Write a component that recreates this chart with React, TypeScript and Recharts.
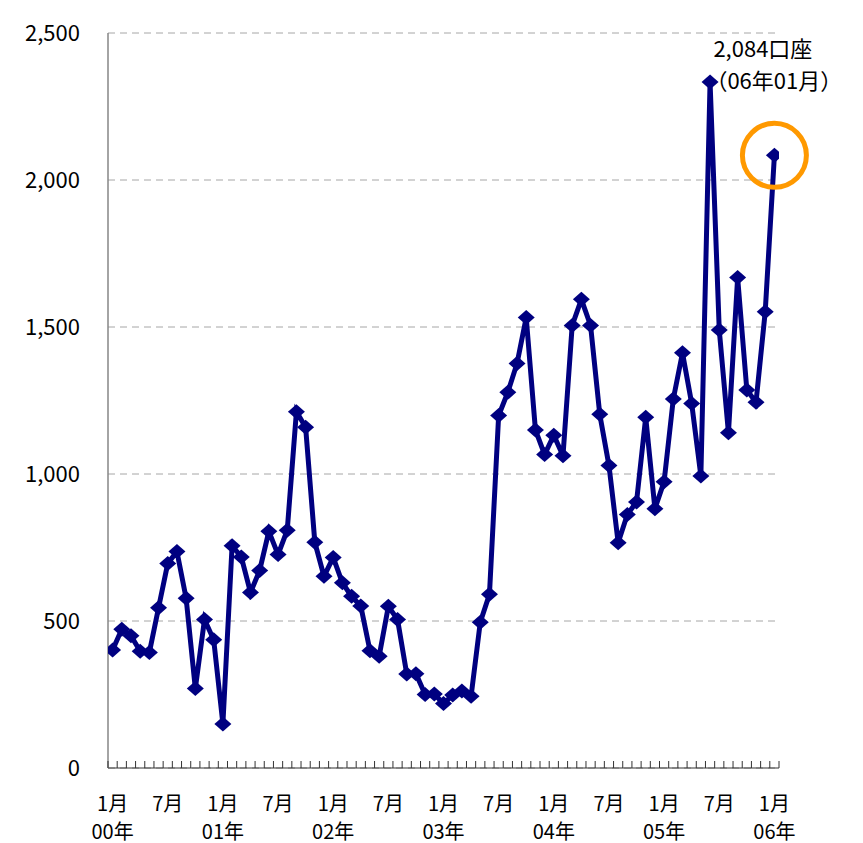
import React from 'react';
import { LineChart, Line, XAxis, YAxis, CartesianGrid, ReferenceDot } from 'recharts';

// monthly new accounts, Jan 2000 .. Jan 2006
const accounts = [
  401, 472, 450, 397, 393, 545, 696, 736, 577, 270, 505, 436,
  150, 756, 718, 597, 672, 805, 726, 809, 1212, 1159, 768, 652,
  716, 630, 584, 551, 399, 380, 550, 505, 320, 321, 250, 252,
  219, 248, 262, 244, 496, 591, 1199, 1278, 1376, 1532, 1150, 1066,
  1132, 1062, 1505, 1594, 1505, 1203, 1029, 766, 862, 905, 1193, 882,
  974, 1255, 1412, 1240, 993, 2333, 1490, 1140, 1668, 1286, 1244, 1552,
  2084,
];

// a label every 6 months
const tickMonth = ['1月', '7月', '1月', '7月', '1月', '7月', '1月', '7月', '1月', '7月', '1月', '7月', '1月'];
const tickYear = ['00年', '', '01年', '', '02年', '', '03年', '', '04年', '', '05年', '', '06年'];
const yTicks = [0, 500, 1000, 1500, 2000, 2500];

const highlightLine1 = '2,084口座';
const highlightLine2 = '（06年01月）';

const data = accounts.map((v, i) => ({ idx: i, value: v }));
const lastIdx = accounts.length - 1;

const W = 863;
const H = 843;
const PLOT_LEFT = 108;
const PLOT_RIGHT = 84;
const BAND = (W - PLOT_LEFT - PLOT_RIGHT) / accounts.length;
const FONT = '"Noto Sans CJK JP", "Noto Sans", sans-serif';

// tick marks sit on month boundaries (Excel style)
const boundaries = Array.from({ length: accounts.length + 1 }, (_, j) => j - 0.5);

function MonthTick(props: any) {
  const { x, y, payload } = props;
  const i = payload.value + 0.5;
  const k = i / 6;
  const showLabel = Number.isInteger(k) && k < tickMonth.length;
  const cx = x + BAND / 2;
  return (
    <g>
      <line x1={x} x2={x} y1={y} y2={y - 7} stroke="#333" strokeWidth={1} />
      {showLabel && (
        <text x={cx} y={y + 34} textAnchor="middle" dominantBaseline="central"
          fontSize={20} fontFamily={FONT} fill="#000">{tickMonth[k]}</text>
      )}
      {showLabel && tickYear[k] && (
        <text x={cx} y={y + 62} textAnchor="middle" dominantBaseline="central"
          fontSize={20} fontFamily={FONT} fill="#000">{tickYear[k]}</text>
      )}
    </g>
  );
}

function Diamond(props: any) {
  const { cx, cy, index } = props;
  if (cx == null || cy == null) return <g key={index} />;
  return (
    <path key={index} d={`M${cx},${cy - 7.5} L${cx + 8.5},${cy} L${cx},${cy + 7.5} L${cx - 8.5},${cy} Z`}
      fill="#000080" stroke="none" />
  );
}

function Note(props: any) {
  const { viewBox } = props;
  if (!viewBox) return null;
  const cx = viewBox.x + viewBox.width / 2;
  const cy = viewBox.y + viewBox.height / 2;
  return (
    <g fontFamily={FONT} fontSize={22} fill="#000">
      <text x={cx - 61} y={cy - 108} dominantBaseline="central">{highlightLine1}</text>
      <text x={cx - 69} y={cy - 76} dominantBaseline="central">{highlightLine2}</text>
    </g>
  );
}

export default function App() {
  return (
    <div style={{ position: 'absolute', left: 0, top: 0, width: W, height: H, background: '#fff' }}>
      <LineChart width={W} height={H} data={data} margin={{ top: 33, right: PLOT_RIGHT, bottom: 0, left: 0 }}>
        <CartesianGrid vertical={false} stroke="#a6a6a6" strokeDasharray="7 5" />
        <XAxis
          dataKey="idx"
          type="number"
          domain={[-0.5, lastIdx + 0.5]}
          ticks={boundaries}
          interval={0}
          height={75}
          tickSize={0}
          tickMargin={0}
          tickLine={false}
          axisLine={{ stroke: '#333', strokeWidth: 1 }}
          tick={<MonthTick />}
          allowDataOverflow
        />
        <YAxis
          domain={[0, 2500]}
          ticks={yTicks}
          width={PLOT_LEFT}
          tickSize={0}
          tickMargin={28}
          tickLine={false}
          axisLine={{ stroke: '#868686', strokeWidth: 1.5 }}
          tick={{ fill: '#000', fontSize: 22, fontFamily: FONT }}
          tickFormatter={(v: number) => v.toLocaleString('en-US')}
        />
        <ReferenceDot x={lastIdx} y={accounts[lastIdx]} r={32} fill="none" stroke="#FF9900" strokeWidth={5}
          label={<Note />} />
        <Line
          type="linear"
          dataKey="value"
          stroke="#000080"
          strokeWidth={5}
          dot={(p: any) => <Diamond key={p.index} {...p} />}
          activeDot={false}
          isAnimationActive={false}
        />
      </LineChart>
    </div>
  );
}
